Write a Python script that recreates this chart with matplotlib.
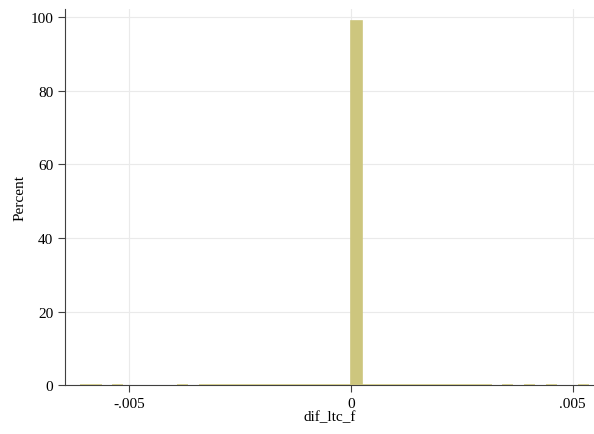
import numpy as np
import matplotlib
matplotlib.use('Agg')
import matplotlib.pyplot as plt

plt.rcParams['font.family'] = ['Liberation Serif', 'DejaVu Serif']

# histogram of dif_ltc_f (percent per bin)
bin_start = -0.006115
bin_width = 0.0002444
percent = [0.1, 0.1, 0.0, 0.1, 0.0, 0.0, 0.0, 0.0, 0.0, 0.1,
           0.0, 0.1, 0.1, 0.1, 0.1, 0.1, 0.1, 0.1, 0.1, 0.1,
           0.1, 0.1, 0.1, 0.1, 0.1, 99.1, 0.1, 0.1, 0.1, 0.1,
           0.1, 0.1, 0.1, 0.1, 0.1, 0.1, 0.1, 0.1, 0.0, 0.1,
           0.0, 0.1, 0.0, 0.1, 0.0, 0.0, 0.1]

xticks = [-0.005, 0, 0.005]
xticklabels = ['-.005', '0', '.005']
yticks = [0, 20, 40, 60, 80, 100]

edges = bin_start + bin_width * np.arange(len(percent))
h = np.array(percent)

fig = plt.figure(figsize=(5.94, 4.35), dpi=100)
ax = fig.add_axes([0.1094, 0.1126, 0.8906, 0.8644])

mask = h > 0
ax.bar(edges[mask], h[mask], width=bin_width, align='edge',
       color='#cdc67e', edgecolor='#cdc67e', linewidth=1.2, zorder=3)

ax.set_xlim(-0.006453, 0.005483)
ax.set_ylim(0, 102.3)
ax.set_xticks(xticks)
ax.set_xticklabels(xticklabels)
ax.set_yticks(yticks)
ax.grid(True, color='#eaeaea', linewidth=0.8, zorder=0)
ax.set_axisbelow(True)

ax.spines['right'].set_color('none')
ax.spines['top'].set_color('none')
ax.spines['left'].set_color('#404040')
ax.spines['bottom'].set_color('#404040')
ax.spines['bottom'].set_zorder(2)
ax.tick_params(axis='both', colors='#404040', labelcolor='black',
               labelsize=11, length=5, width=0.8)

ax.set_xlabel('dif_ltc_f', fontsize=11, labelpad=0)
ax.set_ylabel('Percent', fontsize=11, labelpad=3)

fig.savefig('out.png', dpi=100)
